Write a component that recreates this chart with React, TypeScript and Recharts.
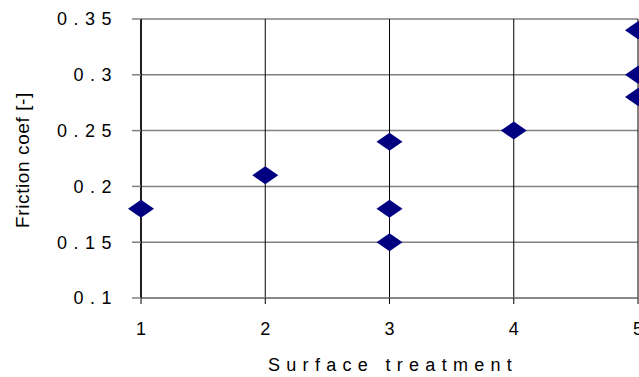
import { ScatterChart, Scatter, XAxis, YAxis, CartesianGrid, Label } from 'recharts'

// surface treatment (1-5) vs measured friction coefficient
const treatment = [1, 2, 3, 3, 3, 4, 5, 5, 5]
const friction = [0.18, 0.21, 0.24, 0.18, 0.15, 0.25, 0.34, 0.3, 0.28]

const xTicks = [1, 2, 3, 4, 5]
const yTicks = [0.1, 0.15, 0.2, 0.25, 0.3, 0.35]

const points = treatment.map((t, i) => ({ x: t, y: friction[i] }))

const FONT = '"Liberation Sans", Arial, sans-serif'
const NAVY = '#000080'

function Diamond(props: any) {
  const { cx, cy } = props
  if (cx == null || cy == null) return null
  const w = 13
  const h = 9
  return (
    <polygon
      points={`${cx - w},${cy} ${cx},${cy - h} ${cx + w},${cy} ${cx},${cy + h}`}
      fill={NAVY}
    />
  )
}

function YTick(props: any) {
  const { x, y, payload } = props
  return (
    <text x={x} y={y} dy="0.36em" textAnchor="end" fontFamily={FONT} fontSize={18}
      letterSpacing={6.5} fill="#000">
      {String(payload.value)}
    </text>
  )
}

function XTick(props: any) {
  const { x, y, payload } = props
  return (
    <text x={x} y={y} dy="0.71em" textAnchor="middle" fontFamily={FONT} fontSize={18} fill="#000">
      {payload.value}
    </text>
  )
}

export default function App() {
  // the plot runs right up to the window edge, so the last column is cut in half
  return (
    <div style={{ position: 'fixed', left: 0, top: 0, width: 639, height: 377, overflow: 'hidden', background: '#fff' }}>
      <ScatterChart width={700} height={377} margin={{ top: 19, right: 62, bottom: 0, left: 0 }}>
        <CartesianGrid horizontal={true} vertical={false} stroke="#808080" strokeWidth={1.5} />
        <CartesianGrid horizontal={false} vertical={true} stroke="#000" strokeWidth={1} />
        <XAxis
          type="number"
          dataKey="x"
          domain={[1, 5]}
          ticks={xTicks}
          height={79}
          axisLine={{ stroke: '#808080', strokeWidth: 1.5 }}
          tickLine={{ stroke: '#000' }}
          tickSize={6}
          tickMargin={18}
          tick={<XTick />}
        >
          <Label
            content={() => (
              <text x={268} y={371} textAnchor="start" fontFamily={FONT} fontSize={18}
                letterSpacing={6.3} fill="#000">
                Surface treatment
              </text>
            )}
          />
        </XAxis>
        <YAxis
          type="number"
          dataKey="y"
          domain={[0.1, 0.35]}
          ticks={yTicks}
          width={141}
          axisLine={{ stroke: '#000', strokeWidth: 1.5 }}
          tickLine={{ stroke: '#808080', strokeWidth: 1.5 }}
          tickSize={9}
          tickMargin={14}
          tick={<YTick />}
        >
          <Label
            content={() => (
              <text x={22} y={160} transform="rotate(-90 22 160)" textAnchor="middle"
                dominantBaseline="central" fontFamily={FONT} fontSize={19}
                letterSpacing={0.6} fill="#000">
                Friction coef [-]
              </text>
            )}
          />
        </YAxis>
        <Scatter data={points} shape={<Diamond />} isAnimationActive={false} />
      </ScatterChart>
    </div>
  )
}
